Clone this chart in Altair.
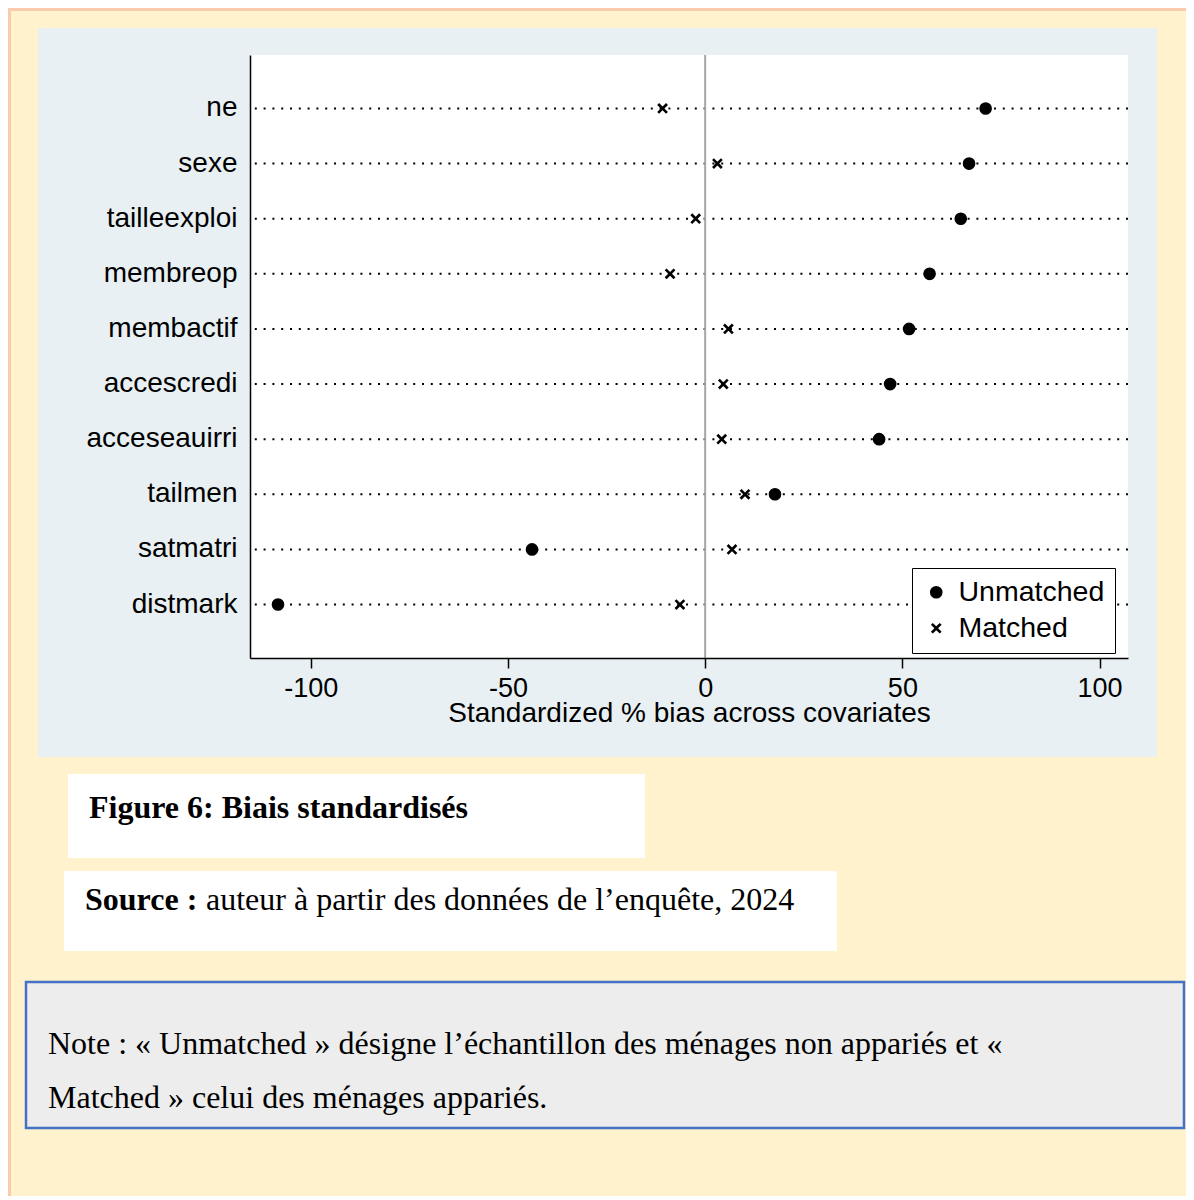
import altair as alt
import pandas as pd

# ---- data ----
covariates = ["ne", "sexe", "tailleexploi", "membreop", "membactif",
              "accescredi", "acceseauirri", "tailmen", "satmatri", "distmark"]
unmatched = [71.1, 66.9, 64.8, 56.9, 51.7, 46.9, 44.1, 17.7, -43.9, -108.3]
matched = [-10.8, 3.1, -2.4, -8.9, 5.9, 4.6, 4.2, 10.1, 6.8, -6.4]
series = ["Unmatched", "Matched"]
x_ticks = [-100, -50, 0, 50, 100]

caption = "Figure 6: Biais standardisés"
source_bold = "Source :"
source_rest = "auteur à partir des données de l’enquête, 2024"
note_line1 = "Note : « Unmatched » désigne l’échantillon des ménages non appariés et «"
note_line2 = "Matched » celui des ménages appariés."

# ---- layout constants ----
W, H = 878, 603
SANS = "Liberation Sans"
SERIF = "Liberation Serif"
# filled "x" glyph in the unit square
X_PATH = ("M-1,-0.65L-0.65,-1L0,-0.35L0.65,-1L1,-0.65L0.35,0L1,0.65L0.65,1"
          "L0,0.35L-0.65,1L-1,0.65L-0.35,0Z")

points = pd.DataFrame({
    "covariate": covariates * 2,
    "bias": unmatched + matched,
    "sample": ["Unmatched"] * len(covariates) + ["Matched"] * len(covariates),
})
rows = pd.DataFrame({"covariate": covariates})
one = pd.DataFrame({"k": [0]})

yscale = alt.Scale(domain=covariates, padding=0.94)
xscale = alt.Scale(domain=[-115.4, 107.2], nice=False, zero=False)


def box(x, x2, y, y2, fill, stroke=None, sw=0):
    kw = dict(fill=fill, clip=False)
    if stroke:
        kw.update(stroke=stroke, strokeWidth=sw)
    return alt.Chart(one).mark_rect(**kw).encode(
        x=alt.value(x), x2=alt.value(x2), y=alt.value(y), y2=alt.value(y2))


def label(txt, x, y, font, size, weight="normal"):
    return alt.Chart(one).mark_text(
        align="left", baseline="alphabetic", font=font, fontSize=size,
        fontWeight=weight, color="black", clip=False
    ).encode(x=alt.value(x), y=alt.value(y), text=alt.value(txt))


outer_border = alt.Chart(one).mark_rect(
    fill="transparent", stroke="#F8CBAD", strokeWidth=3, clip=False
).encode(x=alt.value(-240.5), x2=alt.value(1500), y=alt.value(-45.5), y2=alt.value(1500))

panel = box(-212, 907, -27, 702, "#E8F0F3")
plot_bg = box(0, W, 0, H, "white")
cap_box = box(-182, 395, 719, 803, "white")
src_box = box(-186, 587, 816, 896, "white")
note_box = box(-224, 934, 927, 1073, "#EDEDED", "#4472C4", 2.5)

cap_txt = label(caption, -161, 763, SERIF, 32, "bold")
src_b = label(source_bold, -165, 855, SERIF, 32, "bold")
src_r = label(source_rest, -44, 855, SERIF, 32)
note1 = label(note_line1, -202, 999, SERIF, 32)
note2 = label(note_line2, -202, 1053, SERIF, 32)

dotted = alt.Chart(rows).mark_rule(
    color="black", strokeWidth=2, strokeDash=[2, 6.8]
).encode(y=alt.Y("covariate:N", sort=covariates, scale=yscale))

zero_line = alt.Chart(one).mark_rule(color="#A6A6A6", strokeWidth=2).encode(
    x=alt.datum(0, scale=xscale))

legend = alt.Legend(
    orient="none", legendX=662, legendY=513, title=None,
    strokeColor="black", fillColor="white", padding=10, cornerRadius=0,
    labelFont=SANS, labelFontSize=28.5, labelColor="black", labelOffset=8,
    symbolFillColor="black", symbolStrokeWidth=0,
    rowPadding=7, zindex=2,
)

dots = alt.Chart(points).mark_point(
    filled=True, color="black", opacity=1
).encode(
    x=alt.X("bias:Q", scale=xscale, axis=alt.Axis(
        values=x_ticks, title="Standardized % bias across covariates",
        labelExpr="'' + datum.value", grid=False, tickSize=10, tickWidth=1.5,
        tickColor="black", domainColor="black", domainWidth=1.5,
        labelFont=SANS, labelFontSize=27, labelColor="black", labelPadding=7,
        titleFont=SANS, titleFontSize=28, titleFontWeight="normal",
        titleColor="black", titlePadding=-2, zindex=1)),
    y=alt.Y("covariate:N", sort=covariates, scale=yscale, axis=alt.Axis(
        title=None, ticks=False, grid=False, labelPadding=13,
        labelFont=SANS, labelFontSize=28, labelColor="black",
        domainColor="black", domainWidth=1.5, zindex=1)),
    shape=alt.Shape("sample:N", scale=alt.Scale(domain=series, range=["circle", X_PATH]),
                    legend=legend),
    size=alt.Size("sample:N", scale=alt.Scale(domain=series, range=[160, 115]),
                  legend=legend),
)

chart = alt.layer(
    outer_border, panel, plot_bg, cap_box, src_box, note_box,
    cap_txt, src_b, src_r, note1, note2,
    dotted, zero_line, dots,
).properties(
    width=W, height=H, background="#FFF2CC",
    padding={"left": 242, "top": 47, "right": 58, "bottom": 538},
    autosize=alt.AutoSizeParams(type="none"),
).configure_view(strokeWidth=0)

chart.save("out.html", embed_options={"renderer": "svg", "actions": False})
